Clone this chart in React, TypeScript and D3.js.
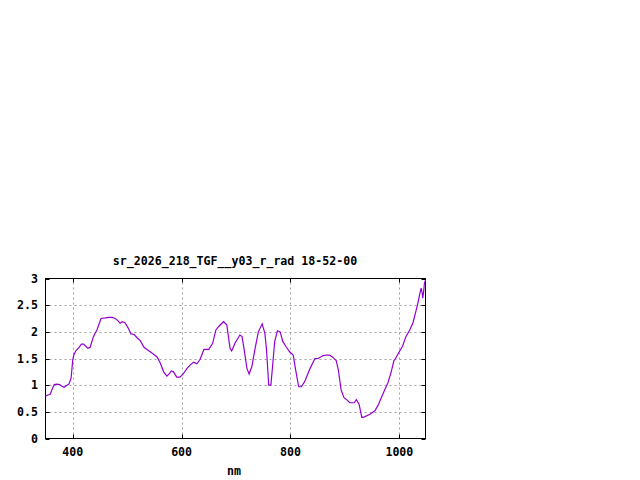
import React from "react";
import * as d3 from "d3";

const wavelengths: number[] = [
  350, 356, 359, 362, 366, 371, 376, 380, 384, 388, 393, 397, 400, 402, 406, 411, 416, 420, 424, 428,
  432, 438, 445, 452, 460, 466, 472, 478, 483, 487, 491, 496, 502, 507, 513, 519, 524, 531, 539, 548,
  555, 561, 567, 573, 578, 581, 585, 591, 597, 603, 610, 616, 622, 628, 634, 641, 650, 657, 663, 669,
  677, 683, 689, 692, 698, 707, 711, 715, 720, 724, 729, 735, 741, 748, 753, 756, 760, 764, 767, 771,
  776, 781, 786, 792, 798, 805, 809, 815, 820, 826, 836, 845, 851, 859, 866, 872, 878, 884, 888, 893,
  898, 904, 909, 917, 921, 926, 931, 936, 946, 955, 961, 967, 973, 979, 985, 990, 993, 1000, 1006, 1012,
  1019, 1025, 1031, 1034, 1037, 1040, 1042, 1043, 1045, 1046, 1048,
];

const radiance: number[] = [
  0.8, 0.82, 0.835, 0.92, 1.01, 1.02, 1.01, 0.98, 0.96, 0.99, 1.02, 1.13, 1.47, 1.565, 1.65, 1.7, 1.77, 1.77, 1.73, 1.69,
  1.71, 1.91, 2.05, 2.25, 2.26, 2.27, 2.27, 2.25, 2.21, 2.16, 2.19, 2.17, 2.07, 1.96, 1.95, 1.88, 1.835, 1.71, 1.65, 1.585,
  1.53, 1.41, 1.25, 1.17, 1.22, 1.265, 1.25, 1.15, 1.15, 1.21, 1.315, 1.38, 1.43, 1.4, 1.485, 1.67, 1.67, 1.785, 2.035, 2.11,
  2.19, 2.13, 1.69, 1.64, 1.785, 1.94, 1.91, 1.66, 1.315, 1.21, 1.345, 1.69, 2.0, 2.15, 1.97, 1.66, 1.0, 1.0, 1.345, 1.815,
  2.02, 2.0, 1.815, 1.72, 1.63, 1.565, 1.315, 0.97, 0.97, 1.065, 1.315, 1.5, 1.5, 1.55, 1.565, 1.565, 1.52, 1.46, 1.28, 0.91,
  0.77, 0.72, 0.67, 0.67, 0.73, 0.645, 0.395, 0.405, 0.455, 0.52, 0.625, 0.77, 0.91, 1.045, 1.25, 1.46, 1.5, 1.63, 1.735, 1.91,
  2.035, 2.17, 2.41, 2.54, 2.69, 2.82, 2.725, 2.63, 2.79, 2.91, 2.97,
];

const xTicks: number[] = [400, 600, 800, 1000];
const yTicks: number[] = [0, 0.5, 1, 1.5, 2, 2.5, 3];
const yTickLabels: string[] = ["0", "0.5", "1", "1.5", "2", "2.5", "3"];
const title = "sr_2026_218_TGF__y03_r_rad 18-52-00";
const xLabel = "nm";

export default function App() {
  const left = 45.5, right = 425.5, top = 278.5, bottom = 438.5;
  const x = d3.scaleLinear().domain([350, 1048]).range([left, right]);
  const y = d3.scaleLinear().domain([0, 3]).range([bottom, top]);
  const line = d3
    .line<number>()
    .x((_, i) => x(wavelengths[i]))
    .y((d) => y(d));
  const tick = 4;
  const font = "'DejaVu Sans Mono', 'Liberation Mono', monospace";
  return (
    <svg
      width={640}
      height={480}
      style={{ position: "absolute", left: 0, top: 0, background: "#fff" }}
      fontFamily={font}
      fontSize={11.6}
      fontWeight="bold"
    >
      <rect x={0} y={0} width={640} height={480} fill="#fff" />
      {yTicks.slice(1, -1).map((t) => (
        <line
          key={"gy" + t}
          x1={left + tick}
          x2={right - tick}
          y1={Math.round(y(t)) + 0.5}
          y2={Math.round(y(t)) + 0.5}
          stroke="#a0a0a0"
          strokeDasharray="2,3"
        />
      ))}
      {xTicks.map((t) => (
        <line
          key={"gx" + t}
          x1={Math.round(x(t)) + 0.5}
          x2={Math.round(x(t)) + 0.5}
          y1={bottom - tick}
          y2={top + tick}
          stroke="#a0a0a0"
          strokeDasharray="2,3"
        />
      ))}
      {yTicks.map((t) => (
        <g key={"ty" + t}>
          <line x1={left} x2={left + tick} y1={Math.round(y(t)) + 0.5} y2={Math.round(y(t)) + 0.5} stroke="#000" />
          <line x1={right - tick} x2={right} y1={Math.round(y(t)) + 0.5} y2={Math.round(y(t)) + 0.5} stroke="#000" />
        </g>
      ))}
      {xTicks.map((t) => (
        <g key={"tx" + t}>
          <line x1={Math.round(x(t)) + 0.5} x2={Math.round(x(t)) + 0.5} y1={bottom} y2={bottom - tick} stroke="#000" />
          <line x1={Math.round(x(t)) + 0.5} x2={Math.round(x(t)) + 0.5} y1={top} y2={top + tick} stroke="#000" />
        </g>
      ))}
      <rect x={left} y={top} width={right - left} height={bottom - top} fill="none" stroke="#000" />
      {yTicks.map((t, i) => (
        <text key={"ly" + t} x={38} y={y(t) + 4} textAnchor="end" fill="#000">
          {yTickLabels[i]}
        </text>
      ))}
      {xTicks.map((t) => (
        <text key={"lx" + t} x={x(t)} y={456} textAnchor="middle" fill="#000">
          {t}
        </text>
      ))}
      <text x={235} y={265} textAnchor="middle" fill="#000">
        {title}
      </text>
      <text x={234} y={475} textAnchor="middle" fill="#000">
        {xLabel}
      </text>
      <path d={line(radiance) || ""} fill="none" stroke="#9400d3" strokeWidth={1.2} />
    </svg>
  );
}
